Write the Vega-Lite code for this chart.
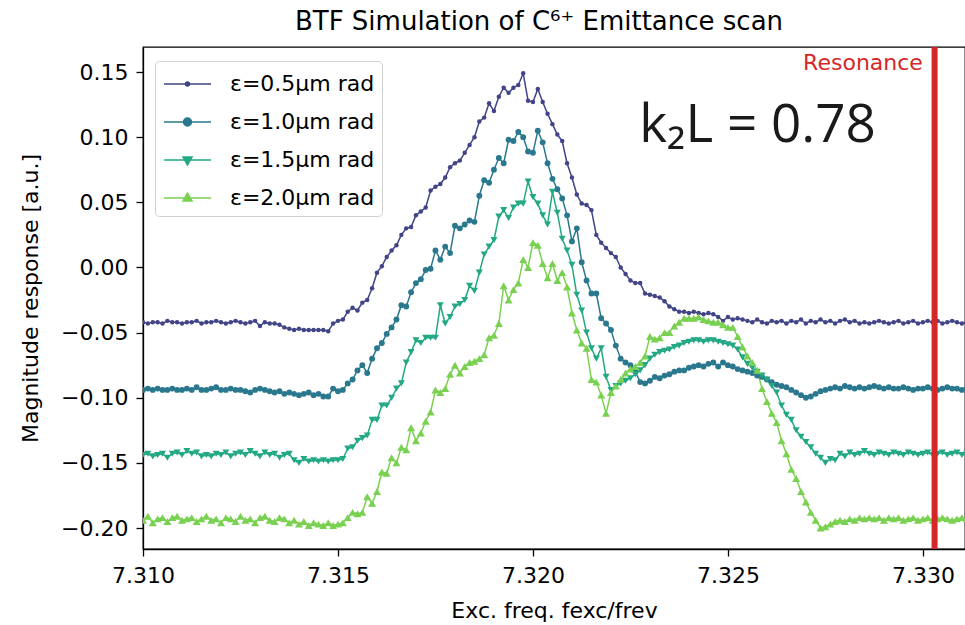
{
"$schema": "https://vega.github.io/schema/vega-lite/v6.json",
"width": 822, "height": 502,
"autosize": {"type": "none"},
"padding": {"left": 143, "top": 47, "right": 0, "bottom": 76},
"background": "white",
"config": {
  "font": "DejaVu Sans",
  "view": {"stroke": "black", "strokeWidth": 1.3},
  "axis": {"domainColor": "black", "domainWidth": 1.3, "tickColor": "black", "tickWidth": 1.3, "tickSize": 7,
    "labelFont": "DejaVu Sans", "labelFontSize": 22, "labelColor": "black", "titleFont": "DejaVu Sans", "titleFontSize": 22,
    "titleFontWeight": "normal", "titleColor": "black", "grid": false, "labelFlush": false, "labelOverlap": false}
},
"title": {"text": "BTF Simulation of C⁶⁺ Emittance scan", "fontSize": 26, "fontWeight": "normal", "color": "black", "font": "DejaVu Sans", "offset": 9, "anchor": "middle", "dx": -15},
"datasets": {
"curves": [
{"s":"a","x":7.309875,"y":-0.042},{"s":"a","x":7.31,"y":-0.042},{"s":"a","x":7.310125,"y":-0.043},{"s":"a","x":7.31025,"y":-0.042},{"s":"a","x":7.310375,"y":-0.042},{"s":"a","x":7.3105,"y":-0.043},{"s":"a","x":7.310625,"y":-0.041},{"s":"a","x":7.31075,"y":-0.042},{"s":"a","x":7.310875,"y":-0.042},
{"s":"a","x":7.311,"y":-0.043},{"s":"a","x":7.311125,"y":-0.042},{"s":"a","x":7.31125,"y":-0.042},{"s":"a","x":7.311375,"y":-0.041},{"s":"a","x":7.3115,"y":-0.043},{"s":"a","x":7.311625,"y":-0.042},{"s":"a","x":7.31175,"y":-0.042},{"s":"a","x":7.311875,"y":-0.041},
{"s":"a","x":7.312,"y":-0.042},{"s":"a","x":7.312125,"y":-0.043},{"s":"a","x":7.31225,"y":-0.042},{"s":"a","x":7.312375,"y":-0.041},{"s":"a","x":7.3125,"y":-0.042},{"s":"a","x":7.312625,"y":-0.043},{"s":"a","x":7.31275,"y":-0.042},{"s":"a","x":7.312875,"y":-0.041},
{"s":"a","x":7.313,"y":-0.045},{"s":"a","x":7.313125,"y":-0.042},{"s":"a","x":7.31325,"y":-0.043},{"s":"a","x":7.313375,"y":-0.043},{"s":"a","x":7.3135,"y":-0.044},{"s":"a","x":7.313625,"y":-0.046},{"s":"a","x":7.31375,"y":-0.047},{"s":"a","x":7.313875,"y":-0.048},
{"s":"a","x":7.314,"y":-0.047},{"s":"a","x":7.314125,"y":-0.048},{"s":"a","x":7.31425,"y":-0.048},{"s":"a","x":7.314375,"y":-0.048},{"s":"a","x":7.3145,"y":-0.048},{"s":"a","x":7.314625,"y":-0.048},{"s":"a","x":7.31475,"y":-0.049},{"s":"a","x":7.314875,"y":-0.043},
{"s":"a","x":7.315,"y":-0.041},{"s":"a","x":7.315125,"y":-0.040},{"s":"a","x":7.31525,"y":-0.034},{"s":"a","x":7.315375,"y":-0.031},{"s":"a","x":7.3155,"y":-0.033},{"s":"a","x":7.315625,"y":-0.027},{"s":"a","x":7.31575,"y":-0.025},{"s":"a","x":7.315875,"y":-0.016},
{"s":"a","x":7.316,"y":-0.004},{"s":"a","x":7.316125,"y":0.001},{"s":"a","x":7.31625,"y":0.008},{"s":"a","x":7.316375,"y":0.013},{"s":"a","x":7.3165,"y":0.017},{"s":"a","x":7.316625,"y":0.025},{"s":"a","x":7.31675,"y":0.030},{"s":"a","x":7.316875,"y":0.031},
{"s":"a","x":7.317,"y":0.040},{"s":"a","x":7.317125,"y":0.043},{"s":"a","x":7.31725,"y":0.046},{"s":"a","x":7.317375,"y":0.059},{"s":"a","x":7.3175,"y":0.062},{"s":"a","x":7.317625,"y":0.064},{"s":"a","x":7.31775,"y":0.069},{"s":"a","x":7.317875,"y":0.077},
{"s":"a","x":7.318,"y":0.080},{"s":"a","x":7.318125,"y":0.082},{"s":"a","x":7.31825,"y":0.088},{"s":"a","x":7.318375,"y":0.094},{"s":"a","x":7.3185,"y":0.100},{"s":"a","x":7.318625,"y":0.112},{"s":"a","x":7.31875,"y":0.115},{"s":"a","x":7.318875,"y":0.126},
{"s":"a","x":7.319,"y":0.120},{"s":"a","x":7.319125,"y":0.131},{"s":"a","x":7.31925,"y":0.138},{"s":"a","x":7.319375,"y":0.134},{"s":"a","x":7.3195,"y":0.138},{"s":"a","x":7.319625,"y":0.140},{"s":"a","x":7.31975,"y":0.149},{"s":"a","x":7.319875,"y":0.128},
{"s":"a","x":7.32,"y":0.127},{"s":"a","x":7.320125,"y":0.137},{"s":"a","x":7.32025,"y":0.127},{"s":"a","x":7.320375,"y":0.118},{"s":"a","x":7.3205,"y":0.110},{"s":"a","x":7.320625,"y":0.102},{"s":"a","x":7.32075,"y":0.097},{"s":"a","x":7.320875,"y":0.080},
{"s":"a","x":7.321,"y":0.069},{"s":"a","x":7.321125,"y":0.056},{"s":"a","x":7.32125,"y":0.049},{"s":"a","x":7.321375,"y":0.048},{"s":"a","x":7.3215,"y":0.044},{"s":"a","x":7.321625,"y":0.025},{"s":"a","x":7.32175,"y":0.019},{"s":"a","x":7.321875,"y":0.015},
{"s":"a","x":7.322,"y":0.011},{"s":"a","x":7.322125,"y":0.008},{"s":"a","x":7.32225,"y":0.000},{"s":"a","x":7.322375,"y":-0.005},{"s":"a","x":7.3225,"y":-0.010},{"s":"a","x":7.322625,"y":-0.012},{"s":"a","x":7.32275,"y":-0.012},{"s":"a","x":7.322875,"y":-0.020},
{"s":"a","x":7.323,"y":-0.021},{"s":"a","x":7.323125,"y":-0.022},{"s":"a","x":7.32325,"y":-0.023},{"s":"a","x":7.323375,"y":-0.026},{"s":"a","x":7.3235,"y":-0.030},{"s":"a","x":7.323625,"y":-0.032},{"s":"a","x":7.32375,"y":-0.034},{"s":"a","x":7.323875,"y":-0.034},
{"s":"a","x":7.324,"y":-0.035},{"s":"a","x":7.324125,"y":-0.034},{"s":"a","x":7.32425,"y":-0.035},{"s":"a","x":7.324375,"y":-0.036},{"s":"a","x":7.3245,"y":-0.035},{"s":"a","x":7.324625,"y":-0.036},{"s":"a","x":7.32475,"y":-0.038},{"s":"a","x":7.324875,"y":-0.041},
{"s":"a","x":7.325,"y":-0.038},{"s":"a","x":7.325125,"y":-0.040},{"s":"a","x":7.32525,"y":-0.039},{"s":"a","x":7.325375,"y":-0.040},{"s":"a","x":7.3255,"y":-0.041},{"s":"a","x":7.325625,"y":-0.042},{"s":"a","x":7.32575,"y":-0.040},{"s":"a","x":7.325875,"y":-0.042},
{"s":"a","x":7.326,"y":-0.043},{"s":"a","x":7.326125,"y":-0.041},{"s":"a","x":7.32625,"y":-0.042},{"s":"a","x":7.326375,"y":-0.041},{"s":"a","x":7.3265,"y":-0.043},{"s":"a","x":7.326625,"y":-0.041},{"s":"a","x":7.32675,"y":-0.042},{"s":"a","x":7.326875,"y":-0.040},
{"s":"a","x":7.327,"y":-0.043},{"s":"a","x":7.327125,"y":-0.041},{"s":"a","x":7.32725,"y":-0.042},{"s":"a","x":7.327375,"y":-0.040},{"s":"a","x":7.3275,"y":-0.042},{"s":"a","x":7.327625,"y":-0.041},{"s":"a","x":7.32775,"y":-0.043},{"s":"a","x":7.327875,"y":-0.041},
{"s":"a","x":7.328,"y":-0.040},{"s":"a","x":7.328125,"y":-0.042},{"s":"a","x":7.32825,"y":-0.041},{"s":"a","x":7.328375,"y":-0.043},{"s":"a","x":7.3285,"y":-0.042},{"s":"a","x":7.328625,"y":-0.043},{"s":"a","x":7.32875,"y":-0.042},{"s":"a","x":7.328875,"y":-0.041},
{"s":"a","x":7.329,"y":-0.042},{"s":"a","x":7.329125,"y":-0.043},{"s":"a","x":7.32925,"y":-0.042},{"s":"a","x":7.329375,"y":-0.041},{"s":"a","x":7.3295,"y":-0.043},{"s":"a","x":7.329625,"y":-0.042},{"s":"a","x":7.32975,"y":-0.041},{"s":"a","x":7.329875,"y":-0.043},
{"s":"a","x":7.33,"y":-0.042},{"s":"a","x":7.330125,"y":-0.041},{"s":"a","x":7.33025,"y":-0.042},{"s":"a","x":7.330375,"y":-0.041},{"s":"a","x":7.3305,"y":-0.043},{"s":"a","x":7.330625,"y":-0.042},{"s":"a","x":7.33075,"y":-0.041},{"s":"a","x":7.330875,"y":-0.042},
{"s":"a","x":7.331,"y":-0.043},{"s":"a","x":7.331125,"y":-0.042},

{"s":"b","x":7.309875,"y":-0.094},{"s":"b","x":7.31,"y":-0.094},{"s":"b","x":7.310125,"y":-0.093},{"s":"b","x":7.31025,"y":-0.094},{"s":"b","x":7.310375,"y":-0.093},{"s":"b","x":7.3105,"y":-0.094},{"s":"b","x":7.310625,"y":-0.094},{"s":"b","x":7.31075,"y":-0.093},{"s":"b","x":7.310875,"y":-0.094},
{"s":"b","x":7.311,"y":-0.094},{"s":"b","x":7.311125,"y":-0.093},{"s":"b","x":7.31125,"y":-0.094},{"s":"b","x":7.311375,"y":-0.092},{"s":"b","x":7.3115,"y":-0.094},{"s":"b","x":7.311625,"y":-0.094},{"s":"b","x":7.31175,"y":-0.093},{"s":"b","x":7.311875,"y":-0.092},
{"s":"b","x":7.312,"y":-0.094},{"s":"b","x":7.312125,"y":-0.094},{"s":"b","x":7.31225,"y":-0.093},{"s":"b","x":7.312375,"y":-0.094},{"s":"b","x":7.3125,"y":-0.094},{"s":"b","x":7.312625,"y":-0.095},{"s":"b","x":7.31275,"y":-0.096},{"s":"b","x":7.312875,"y":-0.094},
{"s":"b","x":7.313,"y":-0.093},{"s":"b","x":7.313125,"y":-0.094},{"s":"b","x":7.31325,"y":-0.095},{"s":"b","x":7.313375,"y":-0.096},{"s":"b","x":7.3135,"y":-0.095},{"s":"b","x":7.313625,"y":-0.097},{"s":"b","x":7.31375,"y":-0.096},{"s":"b","x":7.313875,"y":-0.097},
{"s":"b","x":7.314,"y":-0.098},{"s":"b","x":7.314125,"y":-0.097},{"s":"b","x":7.31425,"y":-0.096},{"s":"b","x":7.314375,"y":-0.098},{"s":"b","x":7.3145,"y":-0.097},{"s":"b","x":7.314625,"y":-0.099},{"s":"b","x":7.31475,"y":-0.099},{"s":"b","x":7.314875,"y":-0.093},
{"s":"b","x":7.315,"y":-0.095},{"s":"b","x":7.315125,"y":-0.094},{"s":"b","x":7.31525,"y":-0.089},{"s":"b","x":7.315375,"y":-0.086},{"s":"b","x":7.3155,"y":-0.079},{"s":"b","x":7.315625,"y":-0.075},{"s":"b","x":7.31575,"y":-0.081},{"s":"b","x":7.315875,"y":-0.070},
{"s":"b","x":7.316,"y":-0.062},{"s":"b","x":7.316125,"y":-0.058},{"s":"b","x":7.31625,"y":-0.051},{"s":"b","x":7.316375,"y":-0.046},{"s":"b","x":7.3165,"y":-0.040},{"s":"b","x":7.316625,"y":-0.029},{"s":"b","x":7.31675,"y":-0.030},{"s":"b","x":7.316875,"y":-0.019},
{"s":"b","x":7.317,"y":-0.012},{"s":"b","x":7.317125,"y":-0.009},{"s":"b","x":7.31725,"y":-0.002},{"s":"b","x":7.317375,"y":-0.001},{"s":"b","x":7.3175,"y":0.013},{"s":"b","x":7.317625,"y":0.006},{"s":"b","x":7.31775,"y":0.016},{"s":"b","x":7.317875,"y":0.011},
{"s":"b","x":7.318,"y":0.032},{"s":"b","x":7.318125,"y":0.030},{"s":"b","x":7.31825,"y":0.033},{"s":"b","x":7.318375,"y":0.036},{"s":"b","x":7.3185,"y":0.035},{"s":"b","x":7.318625,"y":0.055},{"s":"b","x":7.31875,"y":0.067},{"s":"b","x":7.318875,"y":0.065},
{"s":"b","x":7.319,"y":0.075},{"s":"b","x":7.319125,"y":0.084},{"s":"b","x":7.31925,"y":0.080},{"s":"b","x":7.319375,"y":0.098},{"s":"b","x":7.3195,"y":0.097},{"s":"b","x":7.319625,"y":0.104},{"s":"b","x":7.31975,"y":0.100},{"s":"b","x":7.319875,"y":0.089},
{"s":"b","x":7.32,"y":0.088},{"s":"b","x":7.320125,"y":0.105},{"s":"b","x":7.32025,"y":0.096},{"s":"b","x":7.320375,"y":0.080},{"s":"b","x":7.3205,"y":0.068},{"s":"b","x":7.320625,"y":0.060},{"s":"b","x":7.32075,"y":0.053},{"s":"b","x":7.320875,"y":0.040},
{"s":"b","x":7.321,"y":0.020},{"s":"b","x":7.321125,"y":0.030},{"s":"b","x":7.32125,"y":0.004},{"s":"b","x":7.321375,"y":-0.010},{"s":"b","x":7.3215,"y":-0.020},{"s":"b","x":7.321625,"y":-0.020},{"s":"b","x":7.32175,"y":-0.039},{"s":"b","x":7.321875,"y":-0.043},
{"s":"b","x":7.322,"y":-0.048},{"s":"b","x":7.322125,"y":-0.060},{"s":"b","x":7.32225,"y":-0.070},{"s":"b","x":7.322375,"y":-0.073},{"s":"b","x":7.3225,"y":-0.075},{"s":"b","x":7.322625,"y":-0.080},{"s":"b","x":7.32275,"y":-0.088},{"s":"b","x":7.322875,"y":-0.089},
{"s":"b","x":7.323,"y":-0.087},{"s":"b","x":7.323125,"y":-0.084},{"s":"b","x":7.32325,"y":-0.085},{"s":"b","x":7.323375,"y":-0.083},{"s":"b","x":7.3235,"y":-0.082},{"s":"b","x":7.323625,"y":-0.080},{"s":"b","x":7.32375,"y":-0.079},{"s":"b","x":7.323875,"y":-0.079},
{"s":"b","x":7.324,"y":-0.077},{"s":"b","x":7.324125,"y":-0.076},{"s":"b","x":7.32425,"y":-0.075},{"s":"b","x":7.324375,"y":-0.076},{"s":"b","x":7.3245,"y":-0.074},{"s":"b","x":7.324625,"y":-0.073},{"s":"b","x":7.32475,"y":-0.076},{"s":"b","x":7.324875,"y":-0.073},
{"s":"b","x":7.325,"y":-0.075},{"s":"b","x":7.325125,"y":-0.076},{"s":"b","x":7.32525,"y":-0.078},{"s":"b","x":7.325375,"y":-0.079},{"s":"b","x":7.3255,"y":-0.080},{"s":"b","x":7.325625,"y":-0.081},{"s":"b","x":7.32575,"y":-0.083},{"s":"b","x":7.325875,"y":-0.084},
{"s":"b","x":7.326,"y":-0.086},{"s":"b","x":7.326125,"y":-0.088},{"s":"b","x":7.32625,"y":-0.090},{"s":"b","x":7.326375,"y":-0.091},{"s":"b","x":7.3265,"y":-0.092},{"s":"b","x":7.326625,"y":-0.094},{"s":"b","x":7.32675,"y":-0.096},{"s":"b","x":7.326875,"y":-0.098},
{"s":"b","x":7.327,"y":-0.100},{"s":"b","x":7.327125,"y":-0.099},{"s":"b","x":7.32725,"y":-0.097},{"s":"b","x":7.327375,"y":-0.095},{"s":"b","x":7.3275,"y":-0.094},{"s":"b","x":7.327625,"y":-0.093},{"s":"b","x":7.32775,"y":-0.092},{"s":"b","x":7.327875,"y":-0.093},
{"s":"b","x":7.328,"y":-0.091},{"s":"b","x":7.328125,"y":-0.092},{"s":"b","x":7.32825,"y":-0.093},{"s":"b","x":7.328375,"y":-0.092},{"s":"b","x":7.3285,"y":-0.093},{"s":"b","x":7.328625,"y":-0.092},{"s":"b","x":7.32875,"y":-0.091},{"s":"b","x":7.328875,"y":-0.092},
{"s":"b","x":7.329,"y":-0.093},{"s":"b","x":7.329125,"y":-0.092},{"s":"b","x":7.32925,"y":-0.093},{"s":"b","x":7.329375,"y":-0.093},{"s":"b","x":7.3295,"y":-0.092},{"s":"b","x":7.329625,"y":-0.093},{"s":"b","x":7.32975,"y":-0.094},{"s":"b","x":7.329875,"y":-0.093},
{"s":"b","x":7.33,"y":-0.093},{"s":"b","x":7.330125,"y":-0.092},{"s":"b","x":7.33025,"y":-0.093},{"s":"b","x":7.330375,"y":-0.094},{"s":"b","x":7.3305,"y":-0.093},{"s":"b","x":7.330625,"y":-0.092},{"s":"b","x":7.33075,"y":-0.093},{"s":"b","x":7.330875,"y":-0.093},
{"s":"b","x":7.331,"y":-0.094},{"s":"b","x":7.331125,"y":-0.093},

{"s":"c","x":7.309875,"y":-0.144},{"s":"c","x":7.31,"y":-0.144},{"s":"c","x":7.310125,"y":-0.143},{"s":"c","x":7.31025,"y":-0.145},{"s":"c","x":7.310375,"y":-0.144},{"s":"c","x":7.3105,"y":-0.143},{"s":"c","x":7.310625,"y":-0.146},{"s":"c","x":7.31075,"y":-0.143},{"s":"c","x":7.310875,"y":-0.142},
{"s":"c","x":7.311,"y":-0.144},{"s":"c","x":7.311125,"y":-0.141},{"s":"c","x":7.31125,"y":-0.143},{"s":"c","x":7.311375,"y":-0.142},{"s":"c","x":7.3115,"y":-0.145},{"s":"c","x":7.311625,"y":-0.144},{"s":"c","x":7.31175,"y":-0.145},{"s":"c","x":7.311875,"y":-0.143},
{"s":"c","x":7.312,"y":-0.144},{"s":"c","x":7.312125,"y":-0.142},{"s":"c","x":7.31225,"y":-0.145},{"s":"c","x":7.312375,"y":-0.143},{"s":"c","x":7.3125,"y":-0.142},{"s":"c","x":7.312625,"y":-0.144},{"s":"c","x":7.31275,"y":-0.141},{"s":"c","x":7.312875,"y":-0.143},
{"s":"c","x":7.313,"y":-0.145},{"s":"c","x":7.313125,"y":-0.142},{"s":"c","x":7.31325,"y":-0.144},{"s":"c","x":7.313375,"y":-0.143},{"s":"c","x":7.3135,"y":-0.146},{"s":"c","x":7.313625,"y":-0.144},{"s":"c","x":7.31375,"y":-0.143},{"s":"c","x":7.313875,"y":-0.148},
{"s":"c","x":7.314,"y":-0.150},{"s":"c","x":7.314125,"y":-0.147},{"s":"c","x":7.31425,"y":-0.149},{"s":"c","x":7.314375,"y":-0.148},{"s":"c","x":7.3145,"y":-0.149},{"s":"c","x":7.314625,"y":-0.148},{"s":"c","x":7.31475,"y":-0.149},{"s":"c","x":7.314875,"y":-0.148},
{"s":"c","x":7.315,"y":-0.148},{"s":"c","x":7.315125,"y":-0.147},{"s":"c","x":7.31525,"y":-0.139},{"s":"c","x":7.315375,"y":-0.138},{"s":"c","x":7.3155,"y":-0.133},{"s":"c","x":7.315625,"y":-0.131},{"s":"c","x":7.31575,"y":-0.129},{"s":"c","x":7.315875,"y":-0.117},
{"s":"c","x":7.316,"y":-0.117},{"s":"c","x":7.316125,"y":-0.106},{"s":"c","x":7.31625,"y":-0.106},{"s":"c","x":7.316375,"y":-0.100},{"s":"c","x":7.3165,"y":-0.093},{"s":"c","x":7.316625,"y":-0.089},{"s":"c","x":7.31675,"y":-0.073},{"s":"c","x":7.316875,"y":-0.065},
{"s":"c","x":7.317,"y":-0.056},{"s":"c","x":7.317125,"y":-0.058},{"s":"c","x":7.31725,"y":-0.054},{"s":"c","x":7.317375,"y":-0.054},{"s":"c","x":7.3175,"y":-0.054},{"s":"c","x":7.317625,"y":-0.029},{"s":"c","x":7.31775,"y":-0.043},{"s":"c","x":7.317875,"y":-0.038},
{"s":"c","x":7.318,"y":-0.030},{"s":"c","x":7.318125,"y":-0.028},{"s":"c","x":7.31825,"y":-0.025},{"s":"c","x":7.318375,"y":-0.014},{"s":"c","x":7.3185,"y":-0.018},{"s":"c","x":7.318625,"y":-0.004},{"s":"c","x":7.31875,"y":0.010},{"s":"c","x":7.318875,"y":0.016},
{"s":"c","x":7.319,"y":0.021},{"s":"c","x":7.319125,"y":0.039},{"s":"c","x":7.31925,"y":0.044},{"s":"c","x":7.319375,"y":0.038},{"s":"c","x":7.3195,"y":0.046},{"s":"c","x":7.319625,"y":0.049},{"s":"c","x":7.31975,"y":0.049},{"s":"c","x":7.319875,"y":0.066},
{"s":"c","x":7.32,"y":0.054},{"s":"c","x":7.320125,"y":0.049},{"s":"c","x":7.32025,"y":0.040},{"s":"c","x":7.320375,"y":0.033},{"s":"c","x":7.3205,"y":0.058},{"s":"c","x":7.320625,"y":0.042},{"s":"c","x":7.32075,"y":0.022},{"s":"c","x":7.320875,"y":0.013},
{"s":"c","x":7.321,"y":0.002},{"s":"c","x":7.321125,"y":-0.021},{"s":"c","x":7.32125,"y":-0.033},{"s":"c","x":7.321375,"y":-0.050},{"s":"c","x":7.3215,"y":-0.062},{"s":"c","x":7.321625,"y":-0.070},{"s":"c","x":7.32175,"y":-0.062},{"s":"c","x":7.321875,"y":-0.084},
{"s":"c","x":7.322,"y":-0.094},{"s":"c","x":7.322125,"y":-0.091},{"s":"c","x":7.32225,"y":-0.089},{"s":"c","x":7.322375,"y":-0.087},{"s":"c","x":7.3225,"y":-0.085},{"s":"c","x":7.322625,"y":-0.082},{"s":"c","x":7.32275,"y":-0.079},{"s":"c","x":7.322875,"y":-0.075},
{"s":"c","x":7.323,"y":-0.070},{"s":"c","x":7.323125,"y":-0.067},{"s":"c","x":7.32325,"y":-0.065},{"s":"c","x":7.323375,"y":-0.064},{"s":"c","x":7.3235,"y":-0.063},{"s":"c","x":7.323625,"y":-0.061},{"s":"c","x":7.32375,"y":-0.060},{"s":"c","x":7.323875,"y":-0.058},
{"s":"c","x":7.324,"y":-0.057},{"s":"c","x":7.324125,"y":-0.056},{"s":"c","x":7.32425,"y":-0.056},{"s":"c","x":7.324375,"y":-0.057},{"s":"c","x":7.3245,"y":-0.056},{"s":"c","x":7.324625,"y":-0.056},{"s":"c","x":7.32475,"y":-0.057},{"s":"c","x":7.324875,"y":-0.058},
{"s":"c","x":7.325,"y":-0.059},{"s":"c","x":7.325125,"y":-0.060},{"s":"c","x":7.32525,"y":-0.063},{"s":"c","x":7.325375,"y":-0.069},{"s":"c","x":7.3255,"y":-0.074},{"s":"c","x":7.325625,"y":-0.077},{"s":"c","x":7.32575,"y":-0.080},{"s":"c","x":7.325875,"y":-0.083},
{"s":"c","x":7.326,"y":-0.086},{"s":"c","x":7.326125,"y":-0.091},{"s":"c","x":7.32625,"y":-0.096},{"s":"c","x":7.326375,"y":-0.106},{"s":"c","x":7.3265,"y":-0.113},{"s":"c","x":7.326625,"y":-0.117},{"s":"c","x":7.32675,"y":-0.125},{"s":"c","x":7.326875,"y":-0.130},
{"s":"c","x":7.327,"y":-0.134},{"s":"c","x":7.327125,"y":-0.138},{"s":"c","x":7.32725,"y":-0.143},{"s":"c","x":7.327375,"y":-0.146},{"s":"c","x":7.3275,"y":-0.150},{"s":"c","x":7.327625,"y":-0.147},{"s":"c","x":7.32775,"y":-0.148},{"s":"c","x":7.327875,"y":-0.143},
{"s":"c","x":7.328,"y":-0.145},{"s":"c","x":7.328125,"y":-0.142},{"s":"c","x":7.32825,"y":-0.144},{"s":"c","x":7.328375,"y":-0.143},{"s":"c","x":7.3285,"y":-0.141},{"s":"c","x":7.328625,"y":-0.143},{"s":"c","x":7.32875,"y":-0.144},{"s":"c","x":7.328875,"y":-0.142},
{"s":"c","x":7.329,"y":-0.143},{"s":"c","x":7.329125,"y":-0.144},{"s":"c","x":7.32925,"y":-0.142},{"s":"c","x":7.329375,"y":-0.143},{"s":"c","x":7.3295,"y":-0.144},{"s":"c","x":7.329625,"y":-0.142},{"s":"c","x":7.32975,"y":-0.143},{"s":"c","x":7.329875,"y":-0.144},
{"s":"c","x":7.33,"y":-0.143},{"s":"c","x":7.330125,"y":-0.142},{"s":"c","x":7.33025,"y":-0.144},{"s":"c","x":7.330375,"y":-0.143},{"s":"c","x":7.3305,"y":-0.142},{"s":"c","x":7.330625,"y":-0.144},{"s":"c","x":7.33075,"y":-0.143},{"s":"c","x":7.330875,"y":-0.142},
{"s":"c","x":7.331,"y":-0.144},{"s":"c","x":7.331125,"y":-0.143},

{"s":"d","x":7.309875,"y":-0.193},{"s":"d","x":7.31,"y":-0.194},{"s":"d","x":7.310125,"y":-0.191},{"s":"d","x":7.31025,"y":-0.196},{"s":"d","x":7.310375,"y":-0.193},{"s":"d","x":7.3105,"y":-0.192},{"s":"d","x":7.310625,"y":-0.195},{"s":"d","x":7.31075,"y":-0.192},{"s":"d","x":7.310875,"y":-0.191},
{"s":"d","x":7.311,"y":-0.194},{"s":"d","x":7.311125,"y":-0.193},{"s":"d","x":7.31125,"y":-0.192},{"s":"d","x":7.311375,"y":-0.195},{"s":"d","x":7.3115,"y":-0.193},{"s":"d","x":7.311625,"y":-0.191},{"s":"d","x":7.31175,"y":-0.194},{"s":"d","x":7.311875,"y":-0.193},
{"s":"d","x":7.312,"y":-0.196},{"s":"d","x":7.312125,"y":-0.192},{"s":"d","x":7.31225,"y":-0.193},{"s":"d","x":7.312375,"y":-0.195},{"s":"d","x":7.3125,"y":-0.191},{"s":"d","x":7.312625,"y":-0.194},{"s":"d","x":7.31275,"y":-0.193},{"s":"d","x":7.312875,"y":-0.196},
{"s":"d","x":7.313,"y":-0.192},{"s":"d","x":7.313125,"y":-0.191},{"s":"d","x":7.31325,"y":-0.194},{"s":"d","x":7.313375,"y":-0.195},{"s":"d","x":7.3135,"y":-0.192},{"s":"d","x":7.313625,"y":-0.193},{"s":"d","x":7.31375,"y":-0.196},{"s":"d","x":7.313875,"y":-0.194},
{"s":"d","x":7.314,"y":-0.197},{"s":"d","x":7.314125,"y":-0.195},{"s":"d","x":7.31425,"y":-0.198},{"s":"d","x":7.314375,"y":-0.196},{"s":"d","x":7.3145,"y":-0.197},{"s":"d","x":7.314625,"y":-0.198},{"s":"d","x":7.31475,"y":-0.196},{"s":"d","x":7.314875,"y":-0.198},
{"s":"d","x":7.315,"y":-0.197},{"s":"d","x":7.315125,"y":-0.196},{"s":"d","x":7.31525,"y":-0.192},{"s":"d","x":7.315375,"y":-0.188},{"s":"d","x":7.3155,"y":-0.189},{"s":"d","x":7.315625,"y":-0.188},{"s":"d","x":7.31575,"y":-0.176},{"s":"d","x":7.315875,"y":-0.181},
{"s":"d","x":7.316,"y":-0.172},{"s":"d","x":7.316125,"y":-0.157},{"s":"d","x":7.31625,"y":-0.158},{"s":"d","x":7.316375,"y":-0.146},{"s":"d","x":7.3165,"y":-0.150},{"s":"d","x":7.316625,"y":-0.138},{"s":"d","x":7.31675,"y":-0.140},{"s":"d","x":7.316875,"y":-0.123},
{"s":"d","x":7.317,"y":-0.133},{"s":"d","x":7.317125,"y":-0.127},{"s":"d","x":7.31725,"y":-0.118},{"s":"d","x":7.317375,"y":-0.111},{"s":"d","x":7.3175,"y":-0.094},{"s":"d","x":7.317625,"y":-0.096},{"s":"d","x":7.31775,"y":-0.093},{"s":"d","x":7.317875,"y":-0.082},
{"s":"d","x":7.318,"y":-0.075},{"s":"d","x":7.318125,"y":-0.081},{"s":"d","x":7.31825,"y":-0.076},{"s":"d","x":7.318375,"y":-0.073},{"s":"d","x":7.3185,"y":-0.072},{"s":"d","x":7.318625,"y":-0.070},{"s":"d","x":7.31875,"y":-0.067},{"s":"d","x":7.318875,"y":-0.054},
{"s":"d","x":7.319,"y":-0.052},{"s":"d","x":7.319125,"y":-0.043},{"s":"d","x":7.31925,"y":-0.014},{"s":"d","x":7.319375,"y":-0.025},{"s":"d","x":7.3195,"y":-0.017},{"s":"d","x":7.319625,"y":-0.012},{"s":"d","x":7.31975,"y":0.006},{"s":"d","x":7.319875,"y":0.000},
{"s":"d","x":7.32,"y":0.019},{"s":"d","x":7.320125,"y":0.017},{"s":"d","x":7.32025,"y":0.003},{"s":"d","x":7.320375,"y":-0.008},{"s":"d","x":7.3205,"y":0.003},{"s":"d","x":7.320625,"y":-0.010},{"s":"d","x":7.32075,"y":-0.004},{"s":"d","x":7.320875,"y":-0.015},
{"s":"d","x":7.321,"y":-0.035},{"s":"d","x":7.321125,"y":-0.048},{"s":"d","x":7.32125,"y":-0.058},{"s":"d","x":7.321375,"y":-0.062},{"s":"d","x":7.3215,"y":-0.086},{"s":"d","x":7.321625,"y":-0.088},{"s":"d","x":7.32175,"y":-0.098},{"s":"d","x":7.321875,"y":-0.112},
{"s":"d","x":7.322,"y":-0.096},{"s":"d","x":7.322125,"y":-0.091},{"s":"d","x":7.32225,"y":-0.086},{"s":"d","x":7.322375,"y":-0.081},{"s":"d","x":7.3225,"y":-0.078},{"s":"d","x":7.322625,"y":-0.076},{"s":"d","x":7.32275,"y":-0.073},{"s":"d","x":7.322875,"y":-0.068},
{"s":"d","x":7.323,"y":-0.053},{"s":"d","x":7.323125,"y":-0.055},{"s":"d","x":7.32325,"y":-0.054},{"s":"d","x":7.323375,"y":-0.050},{"s":"d","x":7.3235,"y":-0.050},{"s":"d","x":7.323625,"y":-0.045},{"s":"d","x":7.32375,"y":-0.042},{"s":"d","x":7.323875,"y":-0.039},
{"s":"d","x":7.324,"y":-0.039},{"s":"d","x":7.324125,"y":-0.039},{"s":"d","x":7.32425,"y":-0.038},{"s":"d","x":7.324375,"y":-0.040},{"s":"d","x":7.3245,"y":-0.041},{"s":"d","x":7.324625,"y":-0.042},{"s":"d","x":7.32475,"y":-0.042},{"s":"d","x":7.324875,"y":-0.044},
{"s":"d","x":7.325,"y":-0.046},{"s":"d","x":7.325125,"y":-0.046},{"s":"d","x":7.32525,"y":-0.053},{"s":"d","x":7.325375,"y":-0.061},{"s":"d","x":7.3255,"y":-0.068},{"s":"d","x":7.325625,"y":-0.073},{"s":"d","x":7.32575,"y":-0.079},{"s":"d","x":7.325875,"y":-0.093},
{"s":"d","x":7.326,"y":-0.103},{"s":"d","x":7.326125,"y":-0.112},{"s":"d","x":7.32625,"y":-0.119},{"s":"d","x":7.326375,"y":-0.133},{"s":"d","x":7.3265,"y":-0.143},{"s":"d","x":7.326625,"y":-0.155},{"s":"d","x":7.32675,"y":-0.162},{"s":"d","x":7.326875,"y":-0.172},
{"s":"d","x":7.327,"y":-0.180},{"s":"d","x":7.327125,"y":-0.188},{"s":"d","x":7.32725,"y":-0.194},{"s":"d","x":7.327375,"y":-0.200},{"s":"d","x":7.3275,"y":-0.199},{"s":"d","x":7.327625,"y":-0.197},{"s":"d","x":7.32775,"y":-0.195},{"s":"d","x":7.327875,"y":-0.194},
{"s":"d","x":7.328,"y":-0.195},{"s":"d","x":7.328125,"y":-0.193},{"s":"d","x":7.32825,"y":-0.194},{"s":"d","x":7.328375,"y":-0.192},{"s":"d","x":7.3285,"y":-0.193},{"s":"d","x":7.328625,"y":-0.192},{"s":"d","x":7.32875,"y":-0.193},{"s":"d","x":7.328875,"y":-0.192},
{"s":"d","x":7.329,"y":-0.194},{"s":"d","x":7.329125,"y":-0.192},{"s":"d","x":7.32925,"y":-0.193},{"s":"d","x":7.329375,"y":-0.192},{"s":"d","x":7.3295,"y":-0.194},{"s":"d","x":7.329625,"y":-0.193},{"s":"d","x":7.32975,"y":-0.192},{"s":"d","x":7.329875,"y":-0.194},
{"s":"d","x":7.33,"y":-0.193},{"s":"d","x":7.330125,"y":-0.192},{"s":"d","x":7.33025,"y":-0.194},{"s":"d","x":7.330375,"y":-0.193},{"s":"d","x":7.3305,"y":-0.192},{"s":"d","x":7.330625,"y":-0.193},{"s":"d","x":7.33075,"y":-0.194},{"s":"d","x":7.330875,"y":-0.193},
{"s":"d","x":7.331,"y":-0.192},{"s":"d","x":7.331125,"y":-0.193}
],
"res": [{"x": 7.3303}],
"k2l": [{"x": 7.32576, "y": 0.0962, "t": "k₂L = 0.78"}],
"reslabel": [{"x": 7.3300, "y": 0.1515, "t": "Resonance"}]
},
"layer": [
{
  "data": {"name": "curves"},
  "mark": {"type": "line", "strokeWidth": 1.5, "clip": true},
  "encoding": {
    "x": {"field": "x", "type": "quantitative", "scale": {"domain": [7.31, 7.33108], "nice": false, "zero": false},
      "axis": {"values": [7.31, 7.315, 7.32, 7.325, 7.33], "format": ".3f", "labelPadding": 9, "title": "Exc. freq. fexc/frev", "titlePadding": 14}},
    "y": {"field": "y", "type": "quantitative", "scale": {"domain": [-0.2161, 0.1692], "nice": false, "zero": false},
      "axis": {"values": [-0.2, -0.15, -0.1, -0.05, 0, 0.05, 0.1, 0.15], "format": ".2f", "labelPadding": 8, "title": "Magnitude response [a.u.]", "titlePadding": 18}},
    "color": {"field": "s", "type": "nominal", "scale": {"domain": ["a", "b", "c", "d"], "range": ["#414487", "#2a788e", "#22a884", "#7ad151"]}, "legend": null},
    "detail": {"field": "s"}
  }
},
{
  "data": {"name": "curves"},
  "mark": {"type": "point", "filled": true, "opacity": 1, "clip": true},
  "encoding": {
    "x": {"field": "x", "type": "quantitative", "scale": {"domain": [7.31, 7.33108], "nice": false, "zero": false}},
    "y": {"field": "y", "type": "quantitative", "scale": {"domain": [-0.2161, 0.1692], "nice": false, "zero": false}},
    "color": {"field": "s", "type": "nominal", "scale": {"domain": ["a", "b", "c", "d"], "range": ["#414487", "#2a788e", "#22a884", "#7ad151"]}, "legend": null},
    "shape": {"field": "s", "type": "nominal", "scale": {"domain": ["a", "b", "c", "d"], "range": ["circle", "circle", "triangle-down", "triangle-up"]}, "legend": null},
    "size": {"field": "s", "type": "ordinal", "scale": {"domain": ["a", "b", "c", "d"], "range": [20, 64, 90, 90]}, "legend": null}
  }
},
{
  "data": {"name": "curves"},
  "mark": {"type": "point", "filled": true, "opacity": 0, "size": 900, "clip": true},
  "encoding": {
    "x": {"field": "x", "type": "quantitative", "scale": {"domain": [7.31, 7.33108], "nice": false, "zero": false}},
    "y": {"field": "y", "type": "quantitative", "scale": {"domain": [-0.2161, 0.1692], "nice": false, "zero": false}},
    "fill": {"field": "s", "type": "nominal", "scale": {"domain": ["a", "b", "c", "d"], "range": ["#414487", "#2a788e", "#22a884", "#7ad151"]}},
    "stroke": {"field": "s", "type": "nominal", "scale": {"domain": ["a", "b", "c", "d"], "range": ["#414487", "#2a788e", "#22a884", "#7ad151"]}},
    "shape": {"field": "s", "type": "nominal",
      "scale": {"domain": ["a", "b", "c", "d"], "range": [
        "M-0.933,0H2.2M0.5,0A0.133,0.133,0,1,1,0.766,0A0.133,0.133,0,1,1,0.5,0Z",
        "M-0.933,0H2.2M0.366,0A0.267,0.267,0,1,1,0.9,0A0.267,0.267,0,1,1,0.366,0Z",
        "M-0.933,0H2.2M0.333,-0.2L0.933,-0.2L0.633,0.333Z",
        "M-0.933,0H2.2M0.333,0.2L0.933,0.2L0.633,-0.333Z"]},
      "legend": {"title": null, "orient": "none", "legendX": 12, "legendY": 14, "labelFont": "DejaVu Sans", "labelFontSize": 22, "labelColor": "black",
        "symbolSize": 900, "symbolStrokeWidth": 1.5, "symbolOpacity": 1, "rowPadding": 11, "padding": 7, "labelOffset": 36,
        "strokeColor": "#d0d0d0", "fillColor": "rgba(255,255,255,0.8)", "cornerRadius": 4,
        "labelExpr": "datum.label == 'a' ? 'ε=0.5μm rad' : datum.label == 'b' ? 'ε=1.0μm rad' : datum.label == 'c' ? 'ε=1.5μm rad' : 'ε=2.0μm rad'"}}
  }
},
{
  "data": {"name": "res"},
  "mark": {"type": "rule", "color": "#d62728", "strokeWidth": 6},
  "encoding": {
    "x": {"field": "x", "type": "quantitative", "scale": {"domain": [7.31, 7.33108], "nice": false, "zero": false}}
  }
},
{
  "data": {"name": "k2l"},
  "mark": {"type": "text", "font": "Open Sans", "fontSize": 53, "color": "#1a1a1a", "align": "center", "baseline": "alphabetic"},
  "encoding": {
    "x": {"field": "x", "type": "quantitative", "scale": {"domain": [7.31, 7.33108], "nice": false, "zero": false}},
    "y": {"field": "y", "type": "quantitative", "scale": {"domain": [-0.2161, 0.1692], "nice": false, "zero": false}},
    "text": {"field": "t"}
  }
},
{
  "data": {"name": "reslabel"},
  "mark": {"type": "text", "font": "DejaVu Sans", "fontSize": 22, "color": "#d62728", "align": "right", "baseline": "alphabetic"},
  "encoding": {
    "x": {"field": "x", "type": "quantitative", "scale": {"domain": [7.31, 7.33108], "nice": false, "zero": false}},
    "y": {"field": "y", "type": "quantitative", "scale": {"domain": [-0.2161, 0.1692], "nice": false, "zero": false}},
    "text": {"field": "t"}
  }
}
],
"resolve": {"scale": {"shape": "independent", "size": "independent", "fill": "independent", "stroke": "independent"}}
}
